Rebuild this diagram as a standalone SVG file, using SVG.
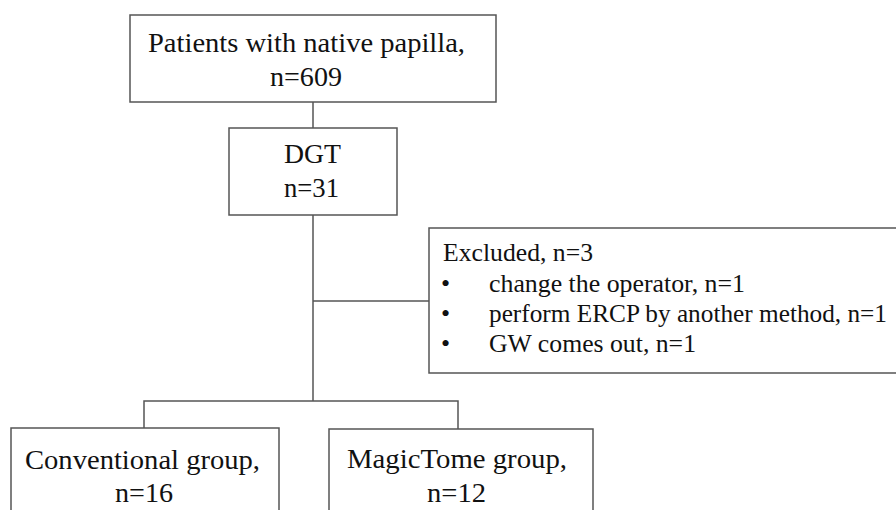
<svg xmlns="http://www.w3.org/2000/svg" width="896" height="510" viewBox="0 0 896 510" font-family="'Liberation Serif', Tinos, 'Times New Roman', 'DejaVu Serif', serif">
<style>
.box{fill:#fff;stroke:#555;stroke-width:1.5}
.ln{fill:none;stroke:#555;stroke-width:1.5}
text{font-family:'Liberation Serif', Tinos, 'Times New Roman', 'DejaVu Serif', serif;fill:#111;font-size:27px}
.ex{font-size:26px}
</style>
<rect width="896" height="510" fill="#fff"/>
<g id="connectors">
<path class="ln" d="M313 102V128"/>
<path class="ln" d="M313 215V401"/>
<path class="ln" d="M313 301H429"/>
<path class="ln" d="M144 428V401H458V429"/>
</g>
<g id="patients">
<rect class="box" x="130" y="15" width="366" height="87"/>
<text x="148" y="52" textLength="317" lengthAdjust="spacingAndGlyphs">Patients with native papilla,</text>
<text x="270" y="86" textLength="72" lengthAdjust="spacingAndGlyphs">n=609</text>
</g>
<g id="dgt">
<rect class="box" x="229" y="128" width="168" height="87"/>
<text x="284" y="163" textLength="57" lengthAdjust="spacingAndGlyphs">DGT</text>
<text x="284" y="197" textLength="55" lengthAdjust="spacingAndGlyphs">n=31</text>
</g>
<g id="excluded">
<rect class="box" x="429" y="228" width="480" height="145"/>
<text class="ex" x="443" y="261" textLength="150" lengthAdjust="spacingAndGlyphs">Excluded, n=3</text>
<text class="ex" x="441" y="292">•</text>
<text class="ex" x="441" y="322">•</text>
<text class="ex" x="441" y="352">•</text>
<text class="ex" x="489" y="292" textLength="256" lengthAdjust="spacingAndGlyphs">change the operator, n=1</text>
<text class="ex" x="489" y="322" textLength="398" lengthAdjust="spacingAndGlyphs">perform ERCP by another method, n=1</text>
<text class="ex" x="489" y="352" textLength="207" lengthAdjust="spacingAndGlyphs">GW comes out, n=1</text>
</g>
<g id="conventional">
<rect class="box" x="11" y="428" width="268" height="90"/>
<text x="25" y="469" textLength="235" lengthAdjust="spacingAndGlyphs">Conventional group,</text>
<text x="115" y="502" textLength="58" lengthAdjust="spacingAndGlyphs">n=16</text>
</g>
<g id="magictome">
<rect class="box" x="329" y="429" width="264" height="90"/>
<text x="347" y="468" textLength="220" lengthAdjust="spacingAndGlyphs">MagicTome group,</text>
<text x="427" y="502" textLength="59" lengthAdjust="spacingAndGlyphs">n=12</text>
</g>
</svg>
